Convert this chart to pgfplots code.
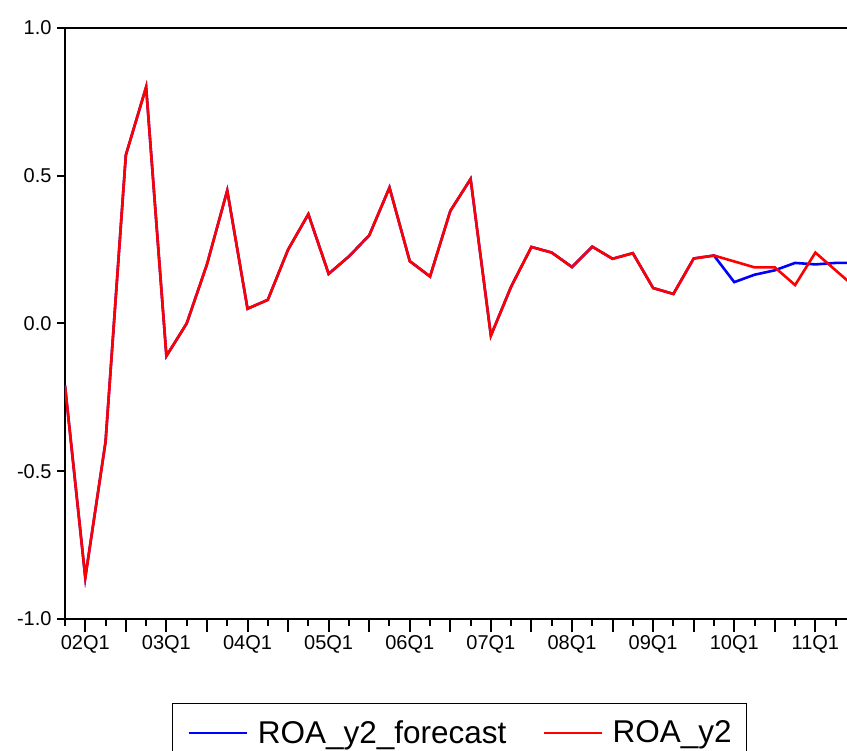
\documentclass[border=0pt]{standalone}
\usepackage{pgfplots}
\pgfplotsset{compat=1.18}
\usepackage{fontspec}
\setmainfont{Liberation Sans}
\begin{document}
\begin{tikzpicture}
\begin{axis}[
  scale only axis,
  width=782pt, height=591pt,
  xmin=0, xmax=38.56, ymin=-1, ymax=1,
  axis x line=box, axis y line=left,
  axis line style={line width=2.8pt, -},
  xtick pos=bottom, ytick pos=left,
  tick align=outside,
  xtick={1,3,...,37},
  xticklabels={02Q1,,03Q1,,04Q1,,05Q1,,06Q1,,07Q1,,08Q1,,09Q1,,10Q1,,11Q1},
  minor xtick={0,2,...,38},
  ytick={-1,-0.5,0,0.5,1},
  yticklabels={-1.0,-0.5,0.0,0.5,1.0},
  major tick length=13pt, minor tick length=7pt,
  every major y tick/.append style={/pgfplots/major tick length=8pt},
  every tick/.append style={line width=2pt, black},
  tick label style={font=\fontsize{20}{24}\selectfont},
  yticklabel style={xshift=3pt},
  clip=true,
  legend columns=2,
  legend style={at={(axis description cs:0.1368,-0.142)}, anchor=north west,
    draw=black, line width=1.3pt, inner xsep=15pt, inner ysep=17pt,
    font=\fontsize{31.5}{36}\selectfont,
    nodes={inner sep=0pt},
    /tikz/every odd column/.append style={column sep=10pt},
    /tikz/every even column/.append style={column sep=36pt}},
  legend image code/.code={\draw[#1, line width=2.2pt] (0pt,0pt) -- (58pt,0pt);},
]
\addplot[blue, line width=2.6pt] table[x=i, y=v] {
i v
0 -0.21
1 -0.86
2 -0.40
3 0.57
4 0.80
5 -0.11
6 0.00
7 0.20
8 0.45
9 0.05
10 0.08
11 0.25
12 0.37
13 0.168
14 0.227
15 0.298
16 0.46
17 0.211
18 0.159
19 0.381
20 0.489
21 -0.041
22 0.125
23 0.259
24 0.24
25 0.191
26 0.26
27 0.219
28 0.238
29 0.12
30 0.10
31 0.22
32 0.23
33 0.14
34 0.165
35 0.18
36 0.205
37 0.20
38 0.205
39 0.205
};
\addlegendentry{ROA\_y2\_forecast}
\addplot[red, line width=2.6pt] table[x=i, y=v] {
i v
0 -0.21
1 -0.86
2 -0.40
3 0.57
4 0.80
5 -0.11
6 0.00
7 0.20
8 0.45
9 0.05
10 0.08
11 0.25
12 0.37
13 0.168
14 0.227
15 0.298
16 0.46
17 0.211
18 0.159
19 0.381
20 0.489
21 -0.041
22 0.125
23 0.259
24 0.24
25 0.191
26 0.26
27 0.219
28 0.238
29 0.12
30 0.10
31 0.22
32 0.23
33 0.21
34 0.19
35 0.19
36 0.13
37 0.24
38 0.18
39 0.12
};
\addlegendentry{ROA\_y2}
\end{axis}
\pgfresetboundingbox
\path[use as bounding box] ([xshift=-65pt,yshift=-132pt]current axis.south west) rectangle ([yshift=28pt]current axis.north east);
\end{tikzpicture}
\end{document}
